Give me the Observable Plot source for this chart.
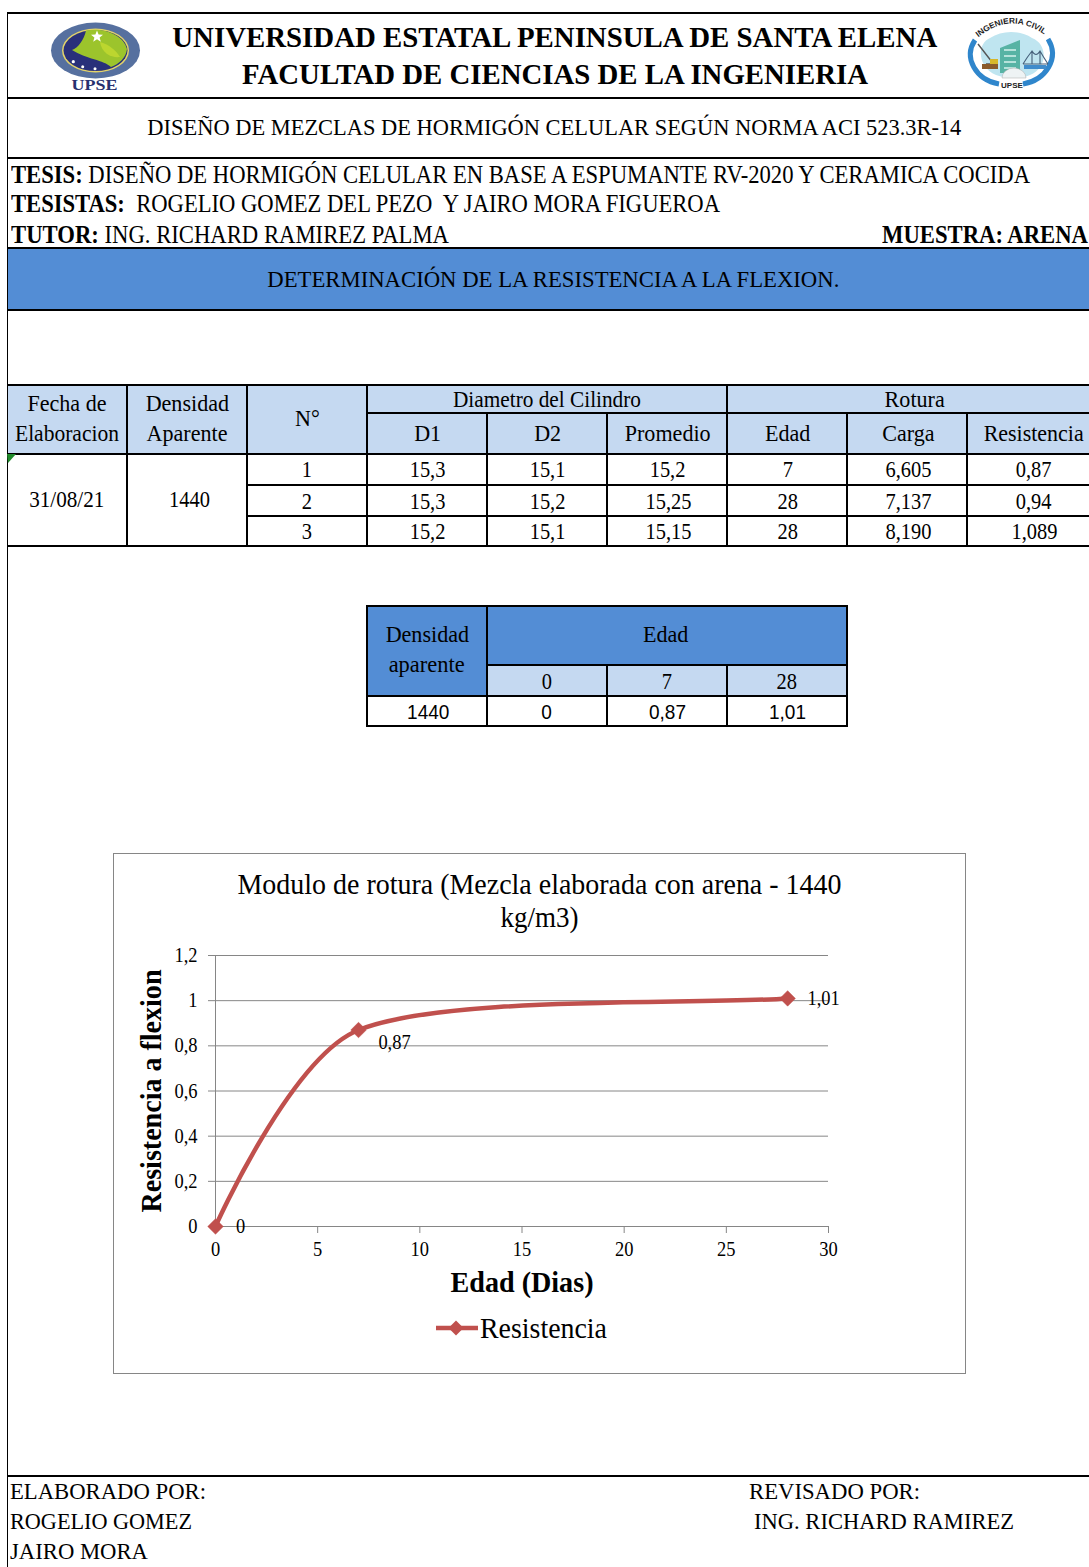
<!DOCTYPE html>
<html lang="es">
<head>
<meta charset="utf-8">
<script src="https://cdn.jsdelivr.net/npm/d3@7"></script>
<script src="https://cdn.jsdelivr.net/npm/@observablehq/plot@0.6"></script>
<style>
html,body{margin:0;padding:0;background:#fff}
#page{position:relative;width:1089px;height:1567px;overflow:hidden;font-family:"Liberation Serif",serif;color:#000;background:#fff}
.t{position:absolute;white-space:pre;line-height:1}
.b{position:absolute}
#chart svg{display:block;overflow:visible}
</style>
</head>
<body>
<div id="page"></div>
<script>
// ---- chart data ----
const edadDias = [0, 7, 28];
const resistenciaFlexion = [0, 0.87, 1.01];
const xTicks = [0, 5, 10, 15, 20, 25, 30];
const yTicks = [0, 0.2, 0.4, 0.6, 0.8, 1, 1.2];
const chartTitleLines = ["Modulo de rotura (Mezcla elaborada con arena - 1440", "kg/m3)"];
// ---- table data ----
const headerMain = ["D1", "D2", "Promedio", "Edad", "Carga", "Resistencia"];
const filaNumero = ["1", "2", "3"];
const filaD1 = ["15,3", "15,3", "15,2"];
const filaD2 = ["15,1", "15,2", "15,1"];
const filaPromedio = ["15,2", "15,25", "15,15"];
const filaEdad = ["7", "28", "28"];
const filaCarga = ["6,605", "7,137", "8,190"];
const filaResistencia = ["0,87", "0,94", "1,089"];
const resumenEdades = ["0", "7", "28"];
const resumenValores = ["0", "0,87", "1,01"];

const page = document.getElementById("page");
const SERIF = '"Liberation Serif",serif';
const BLUE = "#538dd5", LIGHT = "#c5d9f1", RED = "#c0504d", GRAY = "#868686";

function box(x, y, w, h, bg) {
  const d = document.createElement("div");
  d.className = "b";
  d.style.cssText = `left:${x}px;top:${y}px;width:${w}px;height:${h}px;background:${bg}`;
  page.appendChild(d);
  return d;
}
const hline = (x1, x2, y, th = 2) => box(x1, y - th / 2, x2 - x1, th, "#000");
const vline = (x, y1, y2, th = 2) => box(x - th / 2, y1, th, y2 - y1, "#000");

// Text placed by anchor and vertical centre; sx = horizontal squeeze, w = exact target width
function text(x, cy, str, o = {}) {
  const s = document.createElement("span");
  s.className = "t";
  const size = o.size || 24;
  s.style.fontSize = size + "px";
  s.style.fontFamily = o.font || SERIF;
  if (o.bold) s.style.fontWeight = "bold";
  if (o.html) s.innerHTML = str; else s.textContent = str;
  page.appendChild(s);
  const natural = s.getBoundingClientRect().width;
  const sx = o.w ? o.w / natural : (o.sx || 0.92);
  const anchor = o.anchor || "middle";
  const left = anchor === "middle" ? x - natural / 2 : anchor === "end" ? x - natural : x;
  s.style.left = left + "px";
  s.style.top = (cy - size / 2) + "px";
  s.style.transformOrigin = anchor === "middle" ? "50% 50%" : anchor === "end" ? "100% 50%" : "0 50%";
  s.style.transform = `scaleX(${sx})`;
}
const NUM = {size: 23.5, sx: 0.87};

// ---- fills ----
box(8, 249, 1081, 61, BLUE);
box(8, 385, 1081, 69, LIGHT);
box(367, 606, 120, 90, BLUE);
box(487, 606, 360, 59, BLUE);
box(487, 665, 360, 31, LIGHT);

// ---- sheet rules ----
hline(7, 1089, 13, 2);
hline(7, 1089, 97.5, 2);
hline(7, 1089, 158, 2);
hline(7, 1089, 248, 2);
hline(7, 1089, 310, 2);
vline(7.5, 13, 1567, 1.5);
hline(7, 1089, 1476, 2);

// ---- main table rules ----
hline(7, 1089, 385); hline(367, 1089, 413); hline(7, 1089, 454);
hline(247, 1089, 485); hline(247, 1089, 516); hline(7, 1089, 546);
[127, 247, 367, 727].forEach(x => vline(x, 385, 546, 1.5));
[487, 607, 847, 967].forEach(x => vline(x, 413, 546, 1.5));

// ---- summary table rules ----
hline(366, 848, 606); hline(487, 848, 665); hline(366, 848, 696, 2); hline(366, 848, 726);
[367, 487, 847].forEach(x => vline(x, 606, 726, 1.5));
[607, 727].forEach(x => vline(x, 665, 726, 1.5));

// ---- heading ----
text(554.5, 37, "UNIVERSIDAD ESTATAL PENINSULA DE SANTA ELENA", {size: 30, bold: true, w: 765});
text(555, 74, "FACULTAD DE CIENCIAS DE LA INGENIERIA", {size: 30, bold: true, w: 626});
text(554, 127, "DISEÑO DE MEZCLAS DE HORMIGÓN CELULAR SEGÚN NORMA ACI 523.3R-14", {w: 814, size: 24});
text(11, 175, "<b>TESIS:</b> DISEÑO DE HORMIGÓN CELULAR EN BASE A ESPUMANTE RV-2020 Y CERAMICA COCIDA", {html: true, anchor: "start", w: 1019, size: 24.5});
text(11, 204.5, "<b>TESISTAS:</b>  ROGELIO GOMEZ DEL PEZO  Y JAIRO MORA FIGUEROA", {html: true, anchor: "start", w: 709, size: 24.5});
text(11, 235, "<b>TUTOR:</b> ING. RICHARD RAMIREZ PALMA", {html: true, anchor: "start", w: 438, size: 24.5});
text(882, 235, "MUESTRA: ARENA", {bold: true, anchor: "start", w: 206, size: 24.5});
text(553, 279, "DETERMINACIÓN DE LA RESISTENCIA A LA FLEXION.", {w: 572, size: 24});

// ---- main table text ----
text(67, 403, "Fecha de"); text(67, 433, "Elaboracion", {w: 104});
text(187, 403, "Densidad"); text(187, 433, "Aparente");
text(307, 418, "N°");
text(547, 399, "Diametro del Cilindro", {w: 188});
text(915, 399, "Rotura");
const colCentres = [427.5, 548, 668, 788, 908, 1034];
headerMain.forEach((h, i) => text(colCentres[i], 433, h, h === "Resistencia" ? {w: 100} : {}));
const rowCentres = [470, 502, 532];
text(67, 500, "31/08/21", {size: 23.5, sx: 0.9}); text(189, 500, "1440", NUM);
filaNumero.forEach((v, r) => {
  text(307, rowCentres[r], v, NUM);
  [filaD1, filaD2, filaPromedio, filaEdad, filaCarga, filaResistencia].forEach((col, c) =>
    text(colCentres[c], rowCentres[r], col[r], NUM));
});

// ---- summary table text ----
text(427, 634, "Densidad"); text(427, 664, "aparente", {w: 76});
text(666, 634, "Edad");
const resumenX = [547, 667, 787];
resumenEdades.forEach((v, i) => text(resumenX[i], 682, v, NUM));
const SANS = '"Liberation Sans",sans-serif';
text(428, 712, "1440", {font: SANS, size: 20, sx: 0.95});
resumenValores.forEach((v, i) => text(resumenX[i], 712, v, {font: SANS, size: 20, sx: 0.95}));

// ---- footer ----
text(10, 1491, "ELABORADO POR:", {anchor: "start", w: 196, size: 24});
text(10, 1521, "ROGELIO GOMEZ", {anchor: "start", w: 182, size: 24});
text(10, 1551, "JAIRO MORA", {anchor: "start", w: 138, size: 24});
text(749, 1491, "REVISADO POR:", {anchor: "start", w: 171, size: 24});
text(754, 1521, "ING. RICHARD RAMIREZ", {anchor: "start", w: 260, size: 24});

// ---- logos & cell marker (decorative emblems) ----
function emblem(x, y, w, h, inner) {
  const d = document.createElement("div");
  d.className = "b";
  d.style.cssText = `left:${x}px;top:${y}px;width:${w}px;height:${h}px`;
  d.innerHTML = `<svg width="${w}" height="${h}" viewBox="0 0 ${w} ${h}" style="display:block;overflow:visible">${inner}</svg>`;
  page.appendChild(d);
}
emblem(7, 454, 10, 10, `<path d="M0 0H9L1 9Z" fill="#1f8a2a"/>`);
emblem(48, 20, 96, 72, `
  <ellipse cx="47.5" cy="30.5" rx="44.5" ry="28" fill="#56709f"/>
  <ellipse cx="47.5" cy="30.5" rx="33.5" ry="22" fill="#e3d36a"/>
  <ellipse cx="47.5" cy="30.5" rx="32" ry="20.5" fill="#29307a"/>
  <path d="M24 30C30 28 36 20 38 10.5C55 7 76 15 79 29C78 38 71 44 63 47C56 40 38 39 24 30Z" fill="#9cc42c"/>
  <path d="M52 22C60 24 68 30 72 37C64 38 54 34 52 22Z" fill="#bcd62f"/>
  <path d="M49 10.5l1.6 4 4.4.2-3.4 2.8 1.2 4.2-3.8-2.4-3.8 2.4 1.2-4.2-3.4-2.8 4.4-.2z" fill="#fff"/>
  <circle cx="25.3" cy="41.7" r="1.6" fill="#fff"/><circle cx="34.7" cy="46.7" r="1.5" fill="#fff"/><circle cx="47" cy="48.7" r="1.5" fill="#fff"/>
  <text x="46.5" y="70" text-anchor="middle" font-family="Liberation Serif" font-weight="bold" font-size="15" fill="#27306e" textLength="46" lengthAdjust="spacingAndGlyphs">UPSE</text>`);
emblem(964, 18, 94, 74, `
  <defs><path id="arcIng" d="M11 22Q47 -10 85 20"/></defs>
  <path d="M26 20C12 26 14 50 32 57L42 60L58 60L66 57C84 50 84 26 68 20C56 12 38 12 26 20Z" fill="#bfe5f0"/>
  <path d="M11 22C-1 40 12 62 35 66" fill="none" stroke="#2f86cc" stroke-width="5"/>
  <path d="M84 21C96 40 82 62 59 66" fill="none" stroke="#2f86cc" stroke-width="5"/>
  <path d="M36 55L36 30L56 22L56 55Z" fill="#57b3a4"/>
  <path d="M40 32h12M40 38h12M40 44h12M40 50h12" stroke="#d6f2ec" stroke-width="1.5"/>
  <path d="M14 26L28 44M22 46H34" stroke="#555" stroke-width="1.4" fill="none"/>
  <rect x="18" y="46" width="16" height="5" fill="#8a5a2b"/>
  <rect x="26" y="41" width="8" height="5" fill="#d7b72a"/>
  <path d="M59 46L84 46M68 33V46M76 33V46M59 46Q64 38 68 33Q72 40 76 33Q80 40 84 46" stroke="#46607a" stroke-width="1.1" fill="none"/>
  <rect x="60" y="47" width="22" height="4" fill="#3f8ccb"/>
  <path d="M38 60A12 10 0 0 1 62 60Z" fill="#eef3f4" stroke="#aaa" stroke-width=".5"/>
  <text font-family="Liberation Sans" font-size="8" fill="#222" font-weight="bold"><textPath href="#arcIng" startOffset="5%" textLength="72" lengthAdjust="spacingAndGlyphs">INGENIERIA CIVIL</textPath></text>
  <text x="48" y="70" text-anchor="middle" font-family="Liberation Sans" font-size="8" font-weight="bold" fill="#222">UPSE</text>`);

// ---- chart frame ----
const frame = box(113, 853, 853, 521, "#fff");
frame.style.boxSizing = "border-box";
frame.style.border = "1.5px solid " + GRAY;

// ---- chart ----
const puntos = edadDias.map((e, i) => ({edad: e, resistencia: resistenciaFlexion[i]}));
const coma = d => String(d).replace(".", ",");
const M = {left: 102, right: 138, top: 102, bottom: 148};

// Spreadsheet-style smoothing: cubic segments through the points, with the tangent
// at an inner point parallel to its neighbours' chord.
function curvaSuavizada(context) {
  let pts = [];
  const kIn = 0.118, kOut = 0.154, kEnd = 0.22;
  return {
    lineStart() { pts = []; },
    point(x, y) { pts.push([+x, +y]); },
    lineEnd() {
      context.moveTo(pts[0][0], pts[0][1]);
      for (let i = 1; i < pts.length; ++i) {
        const a = pts[i - 1], b = pts[i], prev = pts[i - 2], next = pts[i + 1];
        const c1 = prev
          ? [a[0] + kOut * (b[0] - prev[0]), a[1] + kOut * (b[1] - prev[1])]
          : a;
        const c2 = next
          ? [b[0] - kIn * (next[0] - a[0]), b[1] - kIn * (next[1] - a[1])]
          : [b[0] - kEnd * (b[0] - a[0]), b[1] - kEnd * (b[1] - a[1])];
        context.bezierCurveTo(c1[0], c1[1], c2[0], c2[1], b[0], b[1]);
      }
    },
    areaStart() {}, areaEnd() {}
  };
}

const chart = Plot.plot({
  width: 853, height: 521,
  marginLeft: M.left, marginRight: M.right, marginTop: M.top, marginBottom: M.bottom,
  style: {fontFamily: SERIF, fontSize: "20px", background: "transparent", overflow: "visible"},
  x: {domain: [0, 30], label: null},
  y: {domain: [0, 1.2], label: null},
  marks: [
    Plot.ruleY(yTicks, {stroke: GRAY, strokeWidth: 1}),
    Plot.ruleX([0], {stroke: GRAY, strokeWidth: 1}),
    Plot.axisX({ticks: xTicks, tickSize: 7, tickPadding: 8, stroke: GRAY, tickFormat: coma, label: null, fontSize: 20.5}),
    Plot.axisY({ticks: yTicks, tickSize: 7, tickPadding: 11, stroke: GRAY, tickFormat: coma, label: null, fontSize: 20.5}),
    Plot.line(puntos, {x: "edad", y: "resistencia", stroke: RED, strokeWidth: 4.5, curve: curvaSuavizada}),
    Plot.dot(puntos, {x: "edad", y: "resistencia", symbol: "diamond2", r: 7, fill: RED, stroke: RED, strokeWidth: 0.5}),
    Plot.text([puntos[0]], {x: "edad", y: "resistencia", text: d => coma(d.resistencia), dx: 25, fontSize: 20.5}),
    Plot.text([puntos[1]], {x: "edad", y: "resistencia", text: d => coma(d.resistencia), dx: 36, dy: 12.5, fontSize: 20.5}),
    Plot.text([puntos[2]], {x: "edad", y: "resistencia", text: d => coma(d.resistencia), dx: 36, dy: 0.5, fontSize: 20.5}),
    Plot.text([chartTitleLines[0]], {text: d => d, frameAnchor: "top", dx: 17.5, dy: -82, fontSize: 29}),
    Plot.text([chartTitleLines[1]], {text: d => d, frameAnchor: "top", dx: 17.5, dy: -49, fontSize: 29}),
    Plot.text(["Edad (Dias)"], {text: d => d, frameAnchor: "bottom", dy: 65, fontSize: 29, fontWeight: "bold"}),
    Plot.text(["Resistencia a flexion"], {text: d => d, frameAnchor: "left", textAnchor: "middle", dx: -64, rotate: -90, fontSize: 29, fontWeight: "bold"})
  ]
});
const holder = box(113, 853, 853, 521, "transparent");
holder.id = "chart";
holder.appendChild(chart);
// the reference is horizontally squeezed: narrow the glyphs in the same way
const wideTexts = new Map([[chartTitleLines[0], 604], [chartTitleLines[1], 78], ["Edad (Dias)", 143], ["Resistencia a flexion", 243]]);
chart.querySelectorAll("text").forEach(t => {
  const target = wideTexts.get(t.textContent);
  t.setAttribute("textLength", target || t.getComputedTextLength() * 0.9);
  t.setAttribute("lengthAdjust", "spacingAndGlyphs");
});

// ---- legend ----
const lg = document.createElement("div");
lg.className = "b";
lg.style.cssText = "left:435px;top:1318px;width:44px;height:20px";
lg.innerHTML = `<svg width="44" height="20" viewBox="0 0 44 20" style="display:block"><path d="M1 10H43" stroke="${RED}" stroke-width="4.5"/><path d="M21 2.5L28.5 10L21 17.5L13.5 10Z" fill="${RED}"/></svg>`;
page.appendChild(lg);
text(480, 1328.5, "Resistencia", {anchor: "start", w: 127, size: 29});
</script>
</body>
</html>
